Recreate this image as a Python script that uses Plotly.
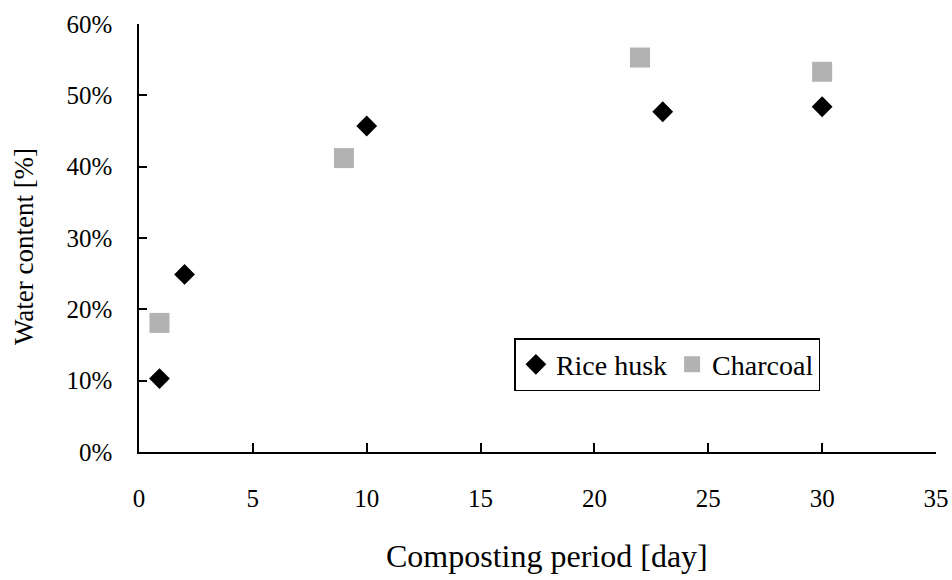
import plotly.graph_objects as go

rice_x = [0.9, 2, 10, 23, 30]
rice_y = [10.3, 24.9, 45.7, 47.7, 48.4]
char_x = [0.9, 9, 22, 30]
char_y = [18.1, 41.2, 55.3, 53.3]
x_ticks = [0, 5, 10, 15, 20, 25, 30, 35]
y_ticks = [0, 10, 20, 30, 40, 50, 60]
y_tick_labels = ["0%", "10%", "20%", "30%", "40%", "50%", "60%"]
x_title = "Composting period [day]"
y_title = "Water content [%]"

font = "Liberation Serif"

fig = go.Figure()
fig.add_trace(go.Scatter(x=rice_x, y=rice_y, mode="markers", name="Rice husk",
                         marker=dict(symbol="diamond", size=16, color="#000000")))
fig.add_trace(go.Scatter(x=char_x, y=char_y, mode="markers", name="Charcoal",
                         marker=dict(symbol="square", size=20, color="#b2b2b2")))

fig.update_layout(
    width=952, height=580,
    margin=dict(l=138.5, r=16.3, t=24, b=128.3, autoexpand=False),
    plot_bgcolor="white", paper_bgcolor="white",
    font=dict(family=font, size=25, color="#000000"),
    showlegend=True,
    legend=dict(orientation="h", x=0.471, y=0.266, xanchor="left", yanchor="top",
                bordercolor="#000000", borderwidth=1.5, bgcolor="white",
                font=dict(family=font, size=28, color="#000000"), itemwidth=30,
                tracegroupgap=0),
    xaxis=dict(range=[0, 35], tickmode="array", tickvals=x_ticks, ticks="inside",
               ticklen=9, tickwidth=1.5, tickcolor="#000", showline=True,
               linecolor="#000", linewidth=1.5, showgrid=False, zeroline=False,
               ticklabelstandoff=23,
               tickfont=dict(family=font, size=25, color="#000000")),
    yaxis=dict(range=[0, 60], tickmode="array", tickvals=y_ticks,
               ticktext=y_tick_labels, ticks="inside",
               ticklen=8, tickwidth=1.5, tickcolor="#000", showline=True,
               linecolor="#000", linewidth=1.5, showgrid=False, zeroline=False,
               ticklabelstandoff=20,
               tickfont=dict(family=font, size=25, color="#000000")),
    annotations=[
        dict(text=x_title, xref="paper", yref="paper", x=0.512, y=-0.2438,
             xanchor="center", yanchor="middle", showarrow=False,
             font=dict(family=font, size=32, color="#000000")),
        dict(text=y_title, xref="paper", yref="paper", x=-0.1443, y=0.481,
             xanchor="center", yanchor="middle", showarrow=False, textangle=-90,
             font=dict(family=font, size=27, color="#000000")),
    ],
)

fig.write_html("out.html")
